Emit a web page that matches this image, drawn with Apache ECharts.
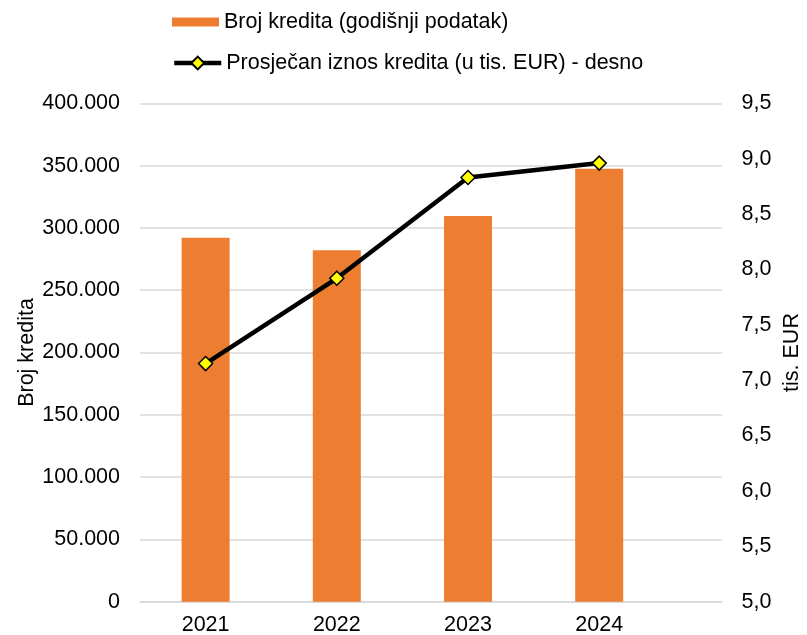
<!DOCTYPE html>
<html><head><meta charset="utf-8">
<script src="https://cdn.jsdelivr.net/npm/echarts@6/dist/echarts.min.js"></script>
<style>html,body{margin:0;padding:0;background:#fff}#c{width:807px;height:635px}</style>
</head><body><div id="c"></div>
<script>
const years = ['2021', '2022', '2023', '2024'];
const brojKredita = [292000, 282000, 309500, 347500];
const prosjecanIznos = [7.15, 7.92, 8.83, 8.96];
const leftTicks = [0, 50000, 100000, 150000, 200000, 250000, 300000, 350000, 400000];
const rightTicks = [5.0, 5.5, 6.0, 6.5, 7.0, 7.5, 8.0, 8.5, 9.0, 9.5];
const barName = 'Broj kredita (godišnji podatak)';
const lineName = 'Prosječan iznos kredita (u tis. EUR) - desno';

const FONT = 'Liberation Sans, Arial, sans-serif';
const FS = 21.5;
const chart = echarts.init(document.getElementById('c'), null, {renderer: 'canvas'});
const fmtLeft = v => v === 0 ? '0' : String(v).replace(/\B(?=(\d{3})+(?!\d))/g, '.');
chart.setOption({
  animation: false,
  textStyle: {fontFamily: FONT},
  legend: [
    {data: [{name: barName, icon: 'rect'}], left: 172, top: 11, padding: 0, itemWidth: 47, itemHeight: 9, itemGap: 6,
     textStyle: {fontSize: FS, color: '#000', fontFamily: FONT}},
    {data: [{name: lineName}], left: 172, top: 52, padding: 0, itemWidth: 47, itemHeight: 16, itemGap: 6,
     lineStyle: {width: 4.5, color: '#000'},
     textStyle: {fontSize: FS, color: '#000', fontFamily: FONT}}
  ],
  grid: {left: 140, right: 85, top: 103.3, bottom: 33.3, containLabel: false, outerBoundsMode: 'none'},
  xAxis: {
    type: 'value', min: -0.5, max: 3.936,
    splitLine: {show: false}, axisTick: {show: false},
    axisLine: {show: true, onZero: false, lineStyle: {color: '#d9d9d9', width: 1.5}},
    axisLabel: {customValues: [0, 1, 2, 3], formatter: v => years[v], fontSize: FS, color: '#000', margin: 12, fontFamily: FONT}
  },
  yAxis: [
    {type: 'value', min: leftTicks[0], max: leftTicks[leftTicks.length - 1], interval: 50000,
     name: 'Broj kredita', nameLocation: 'middle', nameGap: 102, nameRotate: 90, nameMoveOverlap: false,
     nameTextStyle: {fontSize: FS, color: '#000', fontFamily: FONT},
     axisLine: {show: false}, axisTick: {show: false},
     splitLine: {lineStyle: {color: '#d9d9d9', width: 1.5}},
     axisLabel: {formatter: fmtLeft, fontSize: FS, color: '#000', margin: 20, fontFamily: FONT}},
    {type: 'value', min: rightTicks[0], max: rightTicks[rightTicks.length - 1], interval: 0.5, position: 'right',
     name: 'tis. EUR', nameLocation: 'middle', nameGap: 59, nameRotate: 90, nameMoveOverlap: false,
     nameTextStyle: {fontSize: FS, color: '#000', fontFamily: FONT},
     axisLine: {show: false}, axisTick: {show: false}, splitLine: {show: false},
     axisLabel: {formatter: v => v.toFixed(1).replace('.', ','), fontSize: FS, color: '#000', margin: 19.5, fontFamily: FONT}}
  ],
  series: [
    {name: barName, type: 'bar', yAxisIndex: 0, barWidth: 48,
     itemStyle: {color: '#ED7D31'},
     data: brojKredita.map((v, i) => [i, v])},
    {name: lineName, type: 'line', yAxisIndex: 1, z: 5,
     lineStyle: {color: '#000', width: 4.5},
     symbol: 'diamond', symbolSize: 14,
     itemStyle: {color: '#FFFF00', borderColor: '#000', borderWidth: 1.5},
     data: prosjecanIznos.map((v, i) => [i, v])}
  ]
});
</script></body></html>
